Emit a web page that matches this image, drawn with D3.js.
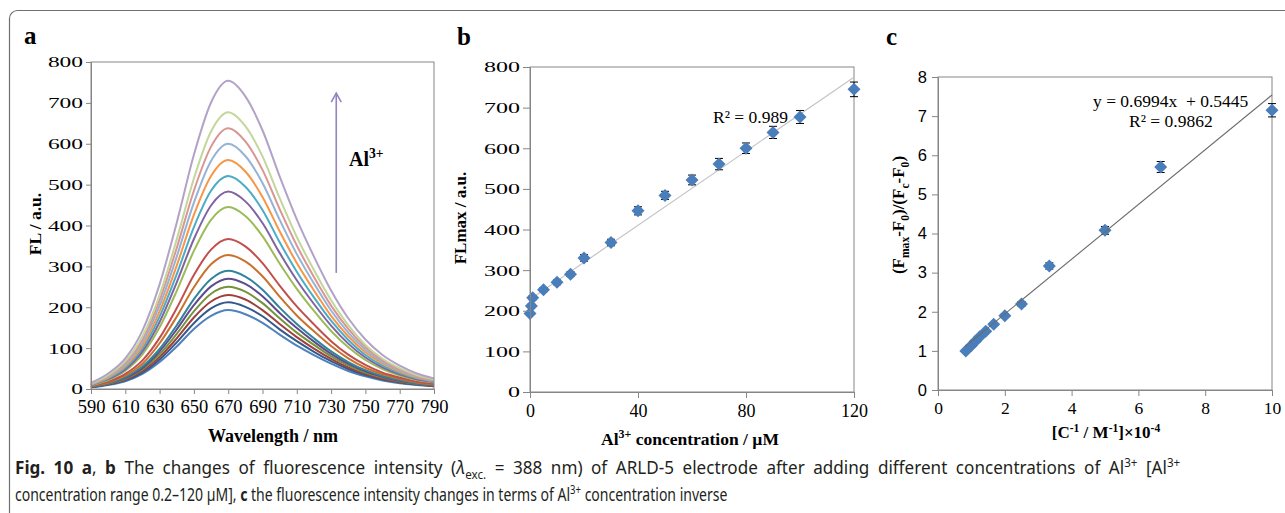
<!DOCTYPE html>
<html>
<head>
<meta charset="utf-8">
<script src="https://cdn.jsdelivr.net/npm/d3@7"></script>
<style>
  body { margin: 0; background: #fff; }
  svg { display: block; }
</style>
</head>
<body>
<div id="chart"></div>
<script>
// ---- panel a: emission spectra (one array per Al3+ addition) ----
var wavelengths = [590, 600, 610, 620, 630, 640, 650, 660, 670, 680, 690, 700, 710, 720, 730, 740, 750, 760, 770, 780, 790];
var spectra = [
    [4, 10, 19, 37, 66, 104, 147, 179, 193, 183, 162, 133, 106, 83, 62, 44, 31, 21, 14, 10, 7],
    [4, 11, 21, 40, 72, 114, 161, 197, 212, 201, 178, 146, 117, 91, 68, 49, 34, 23, 16, 11, 7],
    [5, 12, 23, 44, 78, 124, 175, 214, 230, 219, 193, 159, 127, 99, 74, 53, 37, 25, 17, 12, 8],
    [5, 13, 25, 48, 85, 135, 190, 233, 250, 238, 210, 173, 138, 108, 80, 58, 40, 28, 19, 13, 9],
    [5, 14, 27, 51, 92, 146, 205, 251, 270, 257, 227, 186, 149, 116, 86, 62, 43, 30, 20, 14, 9],
    [6, 14, 29, 55, 98, 156, 220, 269, 289, 275, 243, 199, 159, 124, 92, 66, 46, 32, 22, 14, 10],
    [7, 16, 33, 62, 112, 177, 249, 305, 328, 312, 276, 226, 180, 141, 105, 75, 52, 36, 25, 16, 11],
    [7, 18, 37, 70, 125, 198, 279, 341, 367, 349, 308, 253, 202, 158, 117, 84, 59, 40, 28, 18, 13],
    [9, 22, 45, 85, 151, 240, 338, 414, 445, 423, 374, 307, 245, 191, 142, 102, 71, 49, 33, 22, 16],
    [10, 24, 48, 92, 164, 261, 367, 449, 483, 459, 406, 333, 266, 208, 155, 111, 77, 53, 36, 24, 17],
    [10, 26, 52, 99, 177, 281, 396, 485, 521, 495, 438, 359, 287, 224, 167, 120, 83, 57, 39, 26, 18],
    [11, 28, 56, 106, 190, 302, 426, 521, 560, 532, 470, 386, 308, 241, 179, 129, 90, 62, 42, 28, 20],
    [12, 30, 60, 114, 204, 324, 456, 558, 600, 570, 504, 414, 330, 258, 192, 138, 96, 66, 45, 30, 21],
    [13, 32, 64, 121, 217, 345, 485, 593, 638, 606, 536, 440, 351, 274, 204, 147, 102, 70, 48, 32, 22],
    [14, 34, 68, 129, 230, 366, 515, 630, 677, 643, 569, 467, 372, 291, 217, 156, 108, 74, 51, 34, 24],
    [15, 38, 75, 143, 256, 407, 573, 701, 754, 716, 633, 520, 415, 324, 241, 173, 121, 83, 57, 38, 26]
];
var spectraColors = ["#4f81bd", "#34598a", "#a0403c", "#76923c", "#5f4b8b", "#31849b", "#c8722e", "#c0504d",
    "#9bbb59", "#8064a2", "#4bacc6", "#f79646", "#95b3d7", "#d99694", "#c3d69b", "#b3a2c7"];
var waveTicks = [590, 610, 630, 650, 670, 690, 710, 730, 750, 770, 790];
var flTicks = [0, 100, 200, 300, 400, 500, 600, 700, 800];
var arrowFrom = [733, 284], arrowTo = [733, 724];

// ---- panel b: FLmax vs concentration ----
var concUM = [0, 0.5, 1, 5, 10, 15, 20, 30, 40, 50, 60, 70, 80, 90, 100, 120];
var flMax = [193, 212, 232, 252, 270, 290, 330, 368, 446, 484, 522, 561, 600, 639, 677, 745];
var flErr = [4, 4, 5, 5, 6, 6, 8, 8, 10, 10, 12, 14, 13, 15, 16, 18];
var concTicks = [0, 40, 80, 120];
var trendB_x = [0, 120], trendB_y = [228, 775];

// ---- panel c: double reciprocal ----
var invConc = [0.833, 1.0, 1.111, 1.25, 1.429, 1.667, 2.0, 2.5, 3.333, 5.0, 6.667, 10.0];
var ratio = [1.0, 1.14, 1.24, 1.36, 1.5, 1.68, 1.9, 2.2, 3.17, 4.08, 5.7, 7.15];
var ratioErr = [0.02, 0.02, 0.03, 0.03, 0.03, 0.04, 0.05, 0.06, 0.08, 0.1, 0.14, 0.17];
var invTicks = [0, 2, 4, 6, 8, 10];
var ratioTicks = [0, 1, 2, 3, 4, 5, 6, 7, 8];
var trendC_x = [0.8, 10], trendC_y = [1.104, 7.539];

var W = 1285, H = 513;
var SERIF = "'Liberation Serif', 'Times New Roman', serif";
var SANS = "'Liberation Sans', Arial, sans-serif";
var AXIS_GREY = "#868686";
var MARK_BLUE = "#4a7ebb";

var svg = d3.select("#chart").append("svg")
    .attr("width", W)
    .attr("height", H);

// figure frame (only top/left visible)
svg.append("rect")
    .attr("x", 9.5).attr("y", 10.5)
    .attr("width", 1300).attr("height", 540)
    .attr("rx", 8)
    .attr("fill", "none")
    .attr("stroke", "#6f6f6f")
    .attr("stroke-width", 1.2);

// text with sub / superscripts
function rich(text, parts, fs) {
    var off = 0;
    parts.forEach(function(p) {
        if (typeof p === "string") p = {t: p};
        var target = p.sup ? -fs * 0.38 : p.sub ? fs * 0.28 : 0;
        var ts = text.append("tspan").attr("dy", target - off).text(p.t);
        if (p.sup || p.sub) ts.attr("font-size", fs * 0.68);
        if (p.b) ts.attr("font-weight", "bold");
        if (p.i) ts.attr("font-style", "italic");
        off = target;
    });
    return text;
}

function styleAxis(g, fs, family) {
    g.select(".domain").attr("stroke", AXIS_GREY);
    g.selectAll(".tick line").attr("stroke", AXIS_GREY);
    g.selectAll(".tick text")
        .attr("fill", "#000")
        .attr("font-size", fs)
        .attr("font-family", family);
}

// y tick labels in the original are stretched sideways
function stretch(g, perChar) {
    g.selectAll(".tick text")
        .attr("textLength", function(d) { return String(d).length * perChar; })
        .attr("lengthAdjust", "spacingAndGlyphs");
}

function frame(box) {
    svg.append("rect")
        .attr("x", box.l).attr("y", box.t)
        .attr("width", box.r - box.l).attr("height", box.b - box.t)
        .attr("fill", "none")
        .attr("stroke", AXIS_GREY)
        .attr("stroke-width", 1);
}

function panelLabel(txt, x, y) {
    svg.append("text")
        .attr("x", x).attr("y", y)
        .attr("font-family", SERIF)
        .attr("font-weight", "bold")
        .attr("font-size", 25)
        .text(txt);
}

function diamond(r) {
    return "M0," + (-r) + "L" + r + ",0L0," + r + "L" + (-r) + ",0Z";
}

function errBar(lo, hi) {
    return "M0," + lo + "V" + hi + "M-4," + lo + "h8M-4," + hi + "h8";
}

// ================= panel a =================
(function() {
    var box = {l: 91, r: 434, t: 62, b: 389};
    var x = d3.scaleLinear().domain([590, 790]).range([box.l, box.r]);
    var y = d3.scaleLinear().domain([0, 800]).range([box.b, box.t]);

    var line = d3.line()
        .x(function(d, i) { return x(wavelengths[i]); })
        .y(function(d) { return y(d); })
        .curve(d3.curveMonotoneX);

    svg.append("g").selectAll("path")
        .data(spectra)
        .enter().append("path")
        .attr("d", line)
        .attr("fill", "none")
        .attr("stroke", function(d, i) { return spectraColors[i]; })
        .attr("stroke-width", 2);

    frame(box);

    var gx = svg.append("g")
        .attr("transform", "translate(0," + box.b + ")")
        .call(d3.axisBottom(x).tickValues(waveTicks).tickSize(5).tickSizeOuter(0).tickPadding(6));
    styleAxis(gx, 18.5, SERIF);

    var gy = svg.append("g")
        .attr("transform", "translate(" + box.l + ",0)")
        .call(d3.axisLeft(y).tickValues(flTicks).tickSize(5).tickSizeOuter(0).tickPadding(3));
    styleAxis(gy, 15.5, SERIF);
    stretch(gy, 11.7);

    // arrow showing increasing Al3+
    var ax = x(arrowFrom[0]), y0 = y(arrowFrom[1]), y1 = y(arrowTo[1]);
    svg.append("line")
        .attr("x1", ax).attr("x2", ax).attr("y1", y0).attr("y2", y1)
        .attr("stroke", "#9583c0").attr("stroke-width", 1.6);
    svg.append("path")
        .attr("d", "M" + (ax - 5) + "," + (y1 + 9) + "L" + ax + "," + y1 + "L" + (ax + 5) + "," + (y1 + 9))
        .attr("fill", "none").attr("stroke", "#9583c0").attr("stroke-width", 1.6);

    rich(svg.append("text")
        .attr("x", 349).attr("y", 166)
        .attr("font-family", SERIF).attr("font-weight", "bold").attr("font-size", 20),
        ["Al", {t: "3+", sup: true}], 20);

    svg.append("text")
        .attr("transform", "translate(41,224) rotate(-90)")
        .attr("text-anchor", "middle")
        .attr("font-family", SERIF).attr("font-weight", "bold").attr("font-size", 17.5)
        .text("FL / a.u.");

    svg.append("text")
        .attr("x", 273).attr("y", 442)
        .attr("text-anchor", "middle")
        .attr("font-family", SERIF).attr("font-weight", "bold").attr("font-size", 18)
        .text("Wavelength / nm");

    panelLabel("a", 24, 44);
})();

// ================= panel b =================
(function() {
    var box = {l: 530, r: 854, t: 67, b: 392};
    var x = d3.scaleLinear().domain([0, 120]).range([box.l, box.r]);
    var y = d3.scaleLinear().domain([0, 800]).range([box.b, box.t]);

    frame(box);

    svg.append("line")
        .attr("x1", x(trendB_x[0])).attr("y1", y(trendB_y[0]))
        .attr("x2", x(trendB_x[1])).attr("y2", y(trendB_y[1]))
        .attr("stroke", "#c4c4c4").attr("stroke-width", 1.2);

    var pts = svg.append("g").selectAll("g")
        .data(concUM)
        .enter().append("g")
        .attr("transform", function(d, i) { return "translate(" + x(d) + "," + y(flMax[i]) + ")"; });
    pts.append("path")
        .attr("d", function(d, i) {
            return errBar(y(flMax[i] - flErr[i]) - y(flMax[i]), y(flMax[i] + flErr[i]) - y(flMax[i])); })
        .attr("stroke", "#000").attr("stroke-width", 1).attr("fill", "none");
    pts.append("path")
        .attr("d", diamond(6.5))
        .attr("fill", MARK_BLUE);

    var gx = svg.append("g")
        .attr("transform", "translate(0," + box.b + ")")
        .call(d3.axisBottom(x).tickValues(concTicks).tickSize(6).tickSizeOuter(0).tickPadding(6));
    styleAxis(gx, 18, SERIF);

    var gy = svg.append("g")
        .attr("transform", "translate(" + box.l + ",0)")
        .call(d3.axisLeft(y).tickValues(flTicks).tickSize(7).tickSizeOuter(0).tickPadding(3));
    styleAxis(gy, 15.5, SERIF);
    stretch(gy, 12);

    svg.append("text")
        .attr("x", 713).attr("y", 123)
        .attr("font-family", SERIF).attr("font-size", 17.5)
        .text("R² = 0.989");

    svg.append("text")
        .attr("transform", "translate(466,218) rotate(-90)")
        .attr("text-anchor", "middle")
        .attr("font-family", SERIF).attr("font-weight", "bold").attr("font-size", 17)
        .text("FLmax / a.u.");

    rich(svg.append("text")
        .attr("x", 690).attr("y", 445)
        .attr("text-anchor", "middle")
        .attr("font-family", SERIF).attr("font-weight", "bold").attr("font-size", 17.5),
        ["Al", {t: "3+", sup: true}, " concentration  / µM"], 17.5);

    panelLabel("b", 457, 45);
})();

// ================= panel c =================
(function() {
    var box = {l: 938, r: 1272, t: 77, b: 390};
    var x = d3.scaleLinear().domain([0, 10]).range([box.l, box.r]);
    var y = d3.scaleLinear().domain([0, 8]).range([box.b, box.t]);

    frame(box);

    var pts = svg.append("g").selectAll("g")
        .data(invConc)
        .enter().append("g")
        .attr("transform", function(d, i) { return "translate(" + x(d) + "," + y(ratio[i]) + ")"; });
    pts.append("path")
        .attr("d", function(d, i) {
            return errBar(y(ratio[i] - ratioErr[i]) - y(ratio[i]), y(ratio[i] + ratioErr[i]) - y(ratio[i])); })
        .attr("stroke", "#000").attr("stroke-width", 1).attr("fill", "none");
    pts.append("path")
        .attr("d", diamond(6.5))
        .attr("fill", MARK_BLUE);

    svg.append("line")
        .attr("x1", x(trendC_x[0])).attr("y1", y(trendC_y[0]))
        .attr("x2", x(trendC_x[1])).attr("y2", y(trendC_y[1]))
        .attr("stroke", "#6b6b6b").attr("stroke-width", 1.1);

    var gx = svg.append("g")
        .attr("transform", "translate(0," + box.b + ")")
        .call(d3.axisBottom(x).tickValues(invTicks).tickSize(6).tickSizeOuter(0).tickPadding(6));
    styleAxis(gx, 17.5, SERIF);

    var gy = svg.append("g")
        .attr("transform", "translate(" + box.l + ",0)")
        .call(d3.axisLeft(y).tickValues(ratioTicks).tickSize(6).tickSizeOuter(0).tickPadding(5));
    styleAxis(gy, 16.5, SANS);

    svg.append("text")
        .attr("x", 1093).attr("y", 107)
        .attr("font-family", SERIF).attr("font-size", 17.5)
        .attr("xml:space", "preserve")
        .text("y = 0.6994x  + 0.5445");
    svg.append("text")
        .attr("x", 1129).attr("y", 127)
        .attr("font-family", SERIF).attr("font-size", 17.5)
        .text("R² = 0.9862");

    rich(svg.append("text")
        .attr("transform", "translate(904,215) rotate(-90)")
        .attr("text-anchor", "middle")
        .attr("font-family", SERIF).attr("font-weight", "bold").attr("font-size", 17),
        ["(F", {t: "max", sub: true}, "-F", {t: "0", sub: true}, ")/(F", {t: "c", sub: true}, "-F", {t: "0", sub: true}, ")"], 17);

    rich(svg.append("text")
        .attr("x", 1106).attr("y", 438)
        .attr("text-anchor", "middle")
        .attr("font-family", SERIF).attr("font-weight", "bold").attr("font-size", 17),
        ["[C", {t: "-1", sup: true}, " / M", {t: "-1", sup: true}, "]×10", {t: "-4", sup: true}], 17);

    panelLabel("c", 886, 45);
})();

// ================= caption =================
// line 1 is justified in the original: somewhat wider glyphs and slightly opened word gaps
var captionLines = [
    {y: 474, width: 1166, justify: true, parts: [
        {t: "Fig. 10", b: true}, " ", {t: "a", b: true}, ", ", {t: "b", b: true},
        " The changes of fluorescence intensity (", {t: "λ", i: true}, {t: "exc.", sub: true},
        " = 388 nm) of ARLD-5 electrode after adding different concentrations of Al", {t: "3+", sup: true},
        " [Al", {t: "3+", sup: true}]},
    {y: 501, width: 713, justify: false, parts: [
        "concentration range 0.2–120 µM], ", {t: "c", b: true},
        " the fluorescence intensity changes in terms of Al", {t: "3+", sup: true}, " concentration inverse"]}
];
var CAP_FS = 17.5;
var capTexts = captionLines.map(function(line) {
    var g = svg.append("g");
    var t = g.append("text")
        .attr("font-family", "'Noto Sans', 'Open Sans', sans-serif")
        .attr("font-size", CAP_FS)
        .attr("fill", "#231f20")
        .attr("xml:space", "preserve");
    rich(t, line.parts, CAP_FS);
    return {g: g, t: t, line: line};
});
var natural = capTexts.filter(function(c) { return !c.line.justify; })[0];
var sx = natural.line.width / natural.t.node().getBBox().width;
capTexts.forEach(function(c) {
    if (c.line.justify) {
        var s1 = sx * 1.22;
        var w = c.t.node().getBBox().width;
        var spaces = c.t.text().split(" ").length - 1;
        var extra = Math.max(0, (c.line.width / s1 - w) / spaces);
        c.t.style("word-spacing", extra + "px");
    }
    var s = c.line.width / c.t.node().getBBox().width;
    c.g.attr("transform", "translate(15," + c.line.y + ") scale(" + s + ",1)");
});
</script>
</body>
</html>
